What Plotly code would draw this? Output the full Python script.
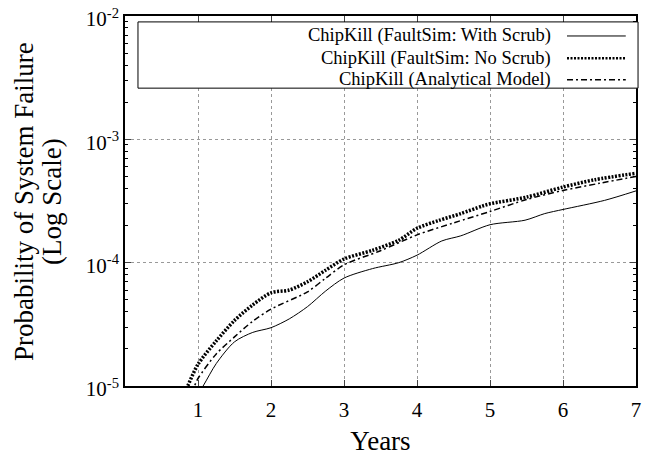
import plotly.graph_objects as go

# ---- data ----
years_scrub = [0.9, 1.07, 1.25, 1.5, 1.75, 2.0, 2.25, 2.5, 2.75, 3.0, 3.39, 3.75, 4.0, 4.34, 4.6, 5.0, 5.48, 5.75, 6.0, 6.57, 7.0]
p_scrub = [7e-6, 1.0e-5, 1.52e-5, 2.28e-5, 2.72e-5, 2.97e-5, 3.5e-5, 4.4e-5, 5.9e-5, 7.5e-5, 8.95e-5, 1.0e-4, 1.15e-4, 1.5e-4, 1.65e-4, 2.03e-4, 2.21e-4, 2.5e-4, 2.7e-4, 3.2e-4, 3.82e-4]

years_noscrub = [0.75, 0.86, 1.0, 1.25, 1.5, 1.75, 2.0, 2.25, 2.5, 2.75, 3.0, 3.39, 3.75, 4.0, 4.3, 4.6, 4.89, 5.0, 5.5, 6.0, 6.43, 7.0]
p_noscrub = [7e-6, 1.0e-5, 1.5e-5, 2.32e-5, 3.4e-5, 4.55e-5, 5.7e-5, 6.0e-5, 7.0e-5, 8.7e-5, 1.07e-4, 1.26e-4, 1.52e-4, 1.9e-4, 2.2e-4, 2.5e-4, 2.87e-4, 3.0e-4, 3.4e-4, 4.1e-4, 4.7e-4, 5.3e-4]

years_model = [0.8, 0.95, 1.0, 1.25, 1.5, 1.75, 2.0, 2.5, 2.75, 3.0, 3.5, 4.0, 4.5, 5.0, 5.5, 6.0, 6.5, 7.0]
p_model = [7e-6, 1.0e-5, 1.15e-5, 1.82e-5, 2.5e-5, 3.35e-5, 4.2e-5, 5.8e-5, 7.5e-5, 9.6e-5, 1.25e-4, 1.68e-4, 2.1e-4, 2.6e-4, 3.25e-4, 3.85e-4, 4.4e-4, 5.0e-4]

x_ticks = [1, 2, 3, 4, 5, 6, 7]
y_tickvals = [1e-5, 1e-4, 1e-3, 1e-2]
y_ticktext = ["10<sup>-5</sup>", "10<sup>-4</sup>", "10<sup>-3</sup>", "10<sup>-2</sup>"]
y_minor = [m * 10.0 ** e for e in (-5, -4, -3) for m in range(2, 10)]

labels = ["ChipKill (FaultSim: With Scrub)", "ChipKill (FaultSim: No Scrub)", "ChipKill (Analytical Model)"]
y_title_lines = ["Probability of System Failure", "(Log Scale)"]

FONT = "Liberation Serif"

styles = [
    dict(color="black", width=1, dash="solid"),
    dict(color="black", width=3.5, dash="2px,1.5px"),
    dict(color="black", width=1.5, dash="6px,3px,2px,3px"),
]

fig = go.Figure()
for xs, ys, st, name in zip([years_scrub, years_noscrub, years_model],
                            [p_scrub, p_noscrub, p_model], styles, labels):
    fig.add_trace(go.Scatter(x=xs, y=ys, mode="lines", name=name,
                             line=dict(color=st["color"], width=st["width"], dash=st["dash"],
                                       shape="spline", smoothing=0.8),
                             showlegend=False))

# page body has an 8px default margin, so the figure is sized/margined to compensate
fig.update_layout(
    width=647, height=448,
    margin=dict(l=117, r=19, t=8, b=70),
    paper_bgcolor="white", plot_bgcolor="white",
    font=dict(family=FONT, color="black", size=18),
)

fig.update_xaxes(
    range=[0, 7], tickvals=x_ticks, ticks="inside", ticklen=6, tickwidth=1,
    showline=True, linecolor="black", linewidth=1.5, mirror="allticks",
    showgrid=True, gridcolor="#999999", griddash="dot", gridwidth=1,
    zeroline=False, automargin=False, ticklabeloverflow="allow",
    ticklabelstandoff=4,
    tickfont=dict(size=21, family=FONT),
    title=dict(text="Years", font=dict(size=27, family=FONT), standoff=10),
)
fig.update_yaxes(
    type="log", range=[-5, -2], tickvals=y_tickvals, ticktext=y_ticktext,
    ticks="inside", ticklen=6, tickwidth=1,
    minor=dict(tickvals=y_minor, ticks="inside", ticklen=3, tickcolor="black", showgrid=False),
    showline=True, linecolor="black", linewidth=1.5, mirror="allticks",
    showgrid=True, gridcolor="#999999", griddash="dot", gridwidth=1,
    zeroline=False, automargin=False, ticklabeloverflow="allow",
    ticklabelshift=3,
    tickfont=dict(size=21, family=FONT),
)

# y-axis title as two rotated lines (tighter line spacing like the reference)
for txt, xp in zip(y_title_lines, [-0.1977, -0.143]):
    fig.add_annotation(xref="paper", yref="paper", x=xp, y=0.5, text=txt, textangle=-90,
                       showarrow=False, xanchor="center", yanchor="middle",
                       font=dict(size=27, family=FONT, color="black"))

# ---- legend box (gnuplot style: text right-aligned, sample at right) ----
fig.add_shape(type="rect", xref="paper", yref="paper", x0=0.0254, x1=1.004, y0=0.805, y1=0.984,
              line=dict(color="black", width=1), fillcolor="white", layer="above")
row_y = [0.946, 0.886, 0.828]
for lab, st, yy in zip(labels, styles, row_y):
    fig.add_annotation(xref="paper", yref="paper", x=0.8376, y=yy, text=lab, showarrow=False,
                       xanchor="right", yanchor="middle", font=dict(size=18.5, family=FONT, color="black"))
    fig.add_shape(type="line", xref="paper", yref="paper", x0=0.865, x1=0.980, y0=yy, y1=yy,
                  line=dict(color=st["color"], width=st["width"] if st["width"] < 3 else 2.5, dash=st["dash"]),
                  layer="above")

fig.write_html("out.html")
